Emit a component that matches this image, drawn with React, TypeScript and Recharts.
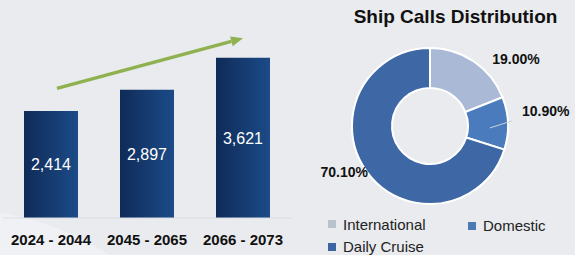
import React from "react";
import {
  BarChart,
  Bar,
  XAxis,
  YAxis,
  LabelList,
  ReferenceLine,
  PieChart,
  Pie,
  Cell,
  Legend
} from "recharts";

const periods = ["2024 - 2044", "2045 - 2065", "2066 - 2073"];
const shipCalls = [2414, 2897, 3621];

const segments = ["International", "Domestic", "Daily Cruise"];
const shares = [19.0, 10.9, 70.1];
const sliceColors = ["#a9b9d6", "#4a7bbd", "#3d67a5"];
const legendColors = ["#b9c1cd", "#4b79b2", "#3c65a2"];

// trend arrow from first to last period
const trendStart = 2890;
const trendEnd = 4060;

const barData = periods.map((p, i) => ({ period: p, calls: shipCalls[i] }));
const pieData = segments.map((s, i) => ({ name: s, value: shares[i] }));

// label placement per slice (relative to the slice mid point on the outer edge)
const labelTweaks = [
  { r: 6, dx: 15, dy: 2, anchor: "start" },
  { r: 14, dx: 0, dy: -12, anchor: "start" },
  { r: 0, dx: 1, dy: 0, anchor: "end" }
];

const RAD = Math.PI / 180;

const Arrow = (props: any) => {
  const { x1, y1, x2, y2 } = props;
  const a = Math.atan2(y2 - y1, x2 - x1);
  const len = 12;
  const w = 5;
  const sx = x1 + 6;
  const sy = y1 + 6 * Math.tan(a);
  const bx = x2 - len * Math.cos(a);
  const by = y2 - len * Math.sin(a);
  const px = -Math.sin(a) * w;
  const py = Math.cos(a) * w;
  return (
    <g>
      <line x1={sx} y1={sy} x2={bx} y2={by} stroke="#8fb14f" strokeWidth={3.5} />
      <polygon
        points={`${x2},${y2} ${bx + px},${by + py} ${bx - px},${by - py}`}
        fill="#8fb14f"
      />
    </g>
  );
};

const PieLabel = (props: any) => {
  const { cx, cy, midAngle, outerRadius, index, value } = props;
  const t = labelTweaks[index];
  const r = outerRadius + t.r;
  const x = cx + r * Math.cos(-midAngle * RAD) + t.dx;
  const y = cy + r * Math.sin(-midAngle * RAD) + t.dy;
  const lx = cx + (outerRadius - 18) * Math.cos(-midAngle * RAD);
  const ly = cy + (outerRadius - 18) * Math.sin(-midAngle * RAD);
  return (
    <g>
      {index === 1 && (
        <line x1={lx} y1={ly + 4} x2={lx + 22} y2={ly - 3} stroke="#c8d0dc" strokeWidth={1} />
      )}
      <text
        x={x}
        y={y}
        textAnchor={t.anchor}
        dominantBaseline="central"
        fontSize={14}
        fontWeight="bold"
        fill="#111"
      >
        {value.toFixed(2)}%
      </text>
    </g>
  );
};

const LegendBox = () => (
  <div
    style={{
      display: "flex",
      flexWrap: "wrap",
      width: 250,
      marginLeft: 28,
      fontSize: 15,
      color: "#222",
      lineHeight: "21px"
    }}
  >
    {segments.map((s, i) => (
      <div
        key={s}
        style={{
          display: "flex",
          alignItems: "center",
          width: i === 0 ? 140 : 110,
          marginTop: i === 1 ? 3 : 0
        }}
      >
        <span
          style={{
            width: 8,
            height: 8,
            background: legendColors[i],
            marginRight: 7,
            display: "inline-block"
          }}
        />
        {s}
      </div>
    ))}
  </div>
);

export default function App() {
  return (
    <div
      style={{
        position: "absolute",
        left: 0,
        top: 0,
        width: 575,
        height: 255,
        background: "#e9ebee",
        overflow: "hidden",
        fontFamily: "Arial, 'Liberation Sans', sans-serif"
      }}
    >
      <div
        style={{
          position: "absolute",
          left: -310,
          top: 210,
          width: 540,
          height: 540,
          borderRadius: "50%",
          background: "#eff1f5"
        }}
      />
      <div style={{ position: "absolute", left: 0, top: 0 }}>
        <BarChart
          width={300}
          height={255}
          data={barData}
          margin={{ top: 32, right: 9, left: 3, bottom: 7 }}
          barSize={54}
        >
          <defs>
            <linearGradient id="barGrad" x1="0" y1="0" x2="1" y2="0">
              <stop offset="0%" stopColor="#0f2b58" />
              <stop offset="100%" stopColor="#1c4b88" />
            </linearGradient>
          </defs>
          <XAxis
            dataKey="period"
            height={30}
            tickLine={false}
            axisLine={{ stroke: "#d9dde2" }}
            tick={{ fontSize: 15, fontWeight: "bold", fill: "#111" }}
            dy={8}
            interval={0}
          />
          <YAxis hide domain={[0, 4200]} />
          <Bar dataKey="calls" fill="url(#barGrad)" isAnimationActive={false}>
            <LabelList
              dataKey="calls"
              position="center"
              fill="#ffffff"
              fontSize={16}
              formatter={(v: any) => Number(v).toLocaleString("en-US")}
            />
          </Bar>
          <ReferenceLine
            segment={[
              { x: periods[0], y: trendStart },
              { x: periods[2], y: trendEnd }
            ]}
            ifOverflow="visible"
            shape={<Arrow />}
          />
        </BarChart>
      </div>
      <div
        style={{
          position: "absolute",
          left: 300,
          top: 0,
          width: 275,
          textAlign: "center",
          fontWeight: "bold",
          fontSize: 19,
          color: "#111",
          paddingTop: 6,
          paddingLeft: 36,
          boxSizing: "border-box"
        }}
      >
        Ship Calls Distribution
      </div>
      <div style={{ position: "absolute", left: 300, top: 0 }}>
        <PieChart width={275} height={255} margin={{ top: 0, right: 0, left: 0, bottom: 0 }}>
          <Pie
            data={pieData}
            dataKey="value"
            nameKey="name"
            cx={130}
            cy={126}
            innerRadius={38}
            outerRadius={78}
            startAngle={90}
            endAngle={-270}
            stroke="#ffffff"
            strokeWidth={2}
            label={PieLabel}
            labelLine={false}
            isAnimationActive={false}
          >
            {pieData.map((d, i) => (
              <Cell key={d.name} fill={sliceColors[i]} />
            ))}
          </Pie>
          <Legend
            content={<LegendBox />}
            verticalAlign="bottom"
            align="left"
            wrapperStyle={{ left: 0, bottom: -2, width: 275 }}
          />
        </PieChart>
      </div>
    </div>
  );
}
